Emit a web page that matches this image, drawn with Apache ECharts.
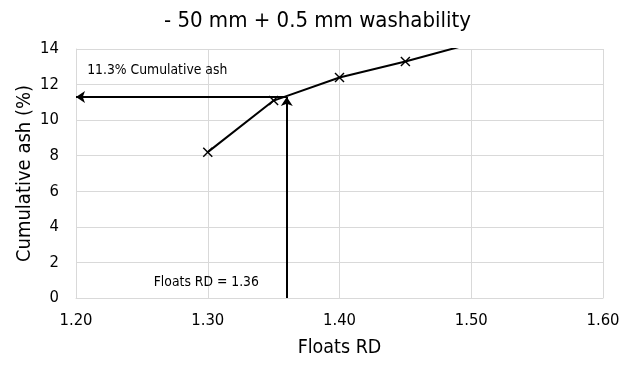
<!DOCTYPE html>
<html><head><meta charset="utf-8">
<script src="https://cdn.jsdelivr.net/npm/echarts@6/dist/echarts.min.js"></script>
<style>html,body{margin:0;padding:0;background:#fff}#c{width:635px;height:366px}</style>
</head><body><div id="c"></div>
<script>
var floatsRD = [1.30, 1.35, 1.40, 1.45, 1.50];
var cumAsh = [8.2, 11.1, 12.4, 13.3, 14.3];
var xTicks = [1.20, 1.30, 1.40, 1.50, 1.60];
var targetRD = 1.36;
var targetAsh = 11.3;
var titleText = '- 50 mm + 0.5 mm washability';
var ashLabel = '11.3% Cumulative ash';
var rdLabel = 'Floats RD = 1.36';

var F = '"DejaVu Sans Condensed", "DejaVu Sans"';
var chart = echarts.init(document.getElementById('c'));
var cross = 'path://M0,1L1,0L5,4L9,0L10,1L6,5L10,9L9,10L5,6L1,10L0,9L4,5Z';
chart.setOption({
  animation: false,
  title: {text: titleText, left: 'center', top: 5, textStyle: {fontFamily: F, fontSize: 22, fontWeight: 'normal', color: '#000'}},
  grid: {left: 76, right: 32, top: 49, bottom: 68},
  xAxis: {type: 'value', min: 1.2, max: 1.6, interval: 0.1, name: 'Floats RD', nameLocation: 'middle', nameGap: 40,
    nameMoveOverlap: false,
    nameTextStyle: {fontFamily: F, fontSize: 19.5, color: '#000'},
    axisLine: {show: true, lineStyle: {color: '#d9d9d9'}}, axisTick: {show: false},
    axisLabel: {fontFamily: F, fontSize: 16.5, color: '#000', margin: 14, formatter: function(v){return v.toFixed(2);}},
    splitLine: {show: true, lineStyle: {color: '#d9d9d9'}}},
  yAxis: {type: 'value', min: 0, max: 14, interval: 2, name: 'Cumulative ash (%)', nameLocation: 'middle', nameGap: 41,
    nameMoveOverlap: false,
    nameTextStyle: {fontFamily: F, fontSize: 20, color: '#000'},
    axisLine: {show: true, lineStyle: {color: '#d9d9d9'}}, axisTick: {show: false},
    axisLabel: {fontFamily: F, fontSize: 16.5, color: '#000', margin: 17},
    splitLine: {show: true, lineStyle: {color: '#d9d9d9'}}},
  series: [{
    type: 'line', data: floatsRD.map(function(x,i){return [x, cumAsh[i]];}),
    symbol: cross, symbolSize: 10, showSymbol: true, clip: true,
    itemStyle: {color: '#000'}, lineStyle: {color: '#000', width: 2},
    markLine: {silent: true, symbol: ['none', 'arrow'], symbolSize: [9, 9], animation: false,
      lineStyle: {color: '#000', width: 2, type: 'solid'}, label: {show: false},
      data: [
        [{coord: [targetRD, targetAsh]}, {coord: [1.2, targetAsh]}],
        [{coord: [targetRD, 0]}, {coord: [targetRD, targetAsh]}]
      ]},
    markPoint: {silent: true, symbol: 'circle', symbolSize: 0,
      label: {show: true, position: 'right', distance: 0, fontFamily: F, fontSize: 13.8, color: '#000',
        formatter: function(p){return p.name;}},
      data: [
        {name: ashLabel, coord: [1.2085, 12.8]},
        {name: rdLabel, coord: [1.259, 0.85]}
      ]}
  }]
});
</script></body></html>
